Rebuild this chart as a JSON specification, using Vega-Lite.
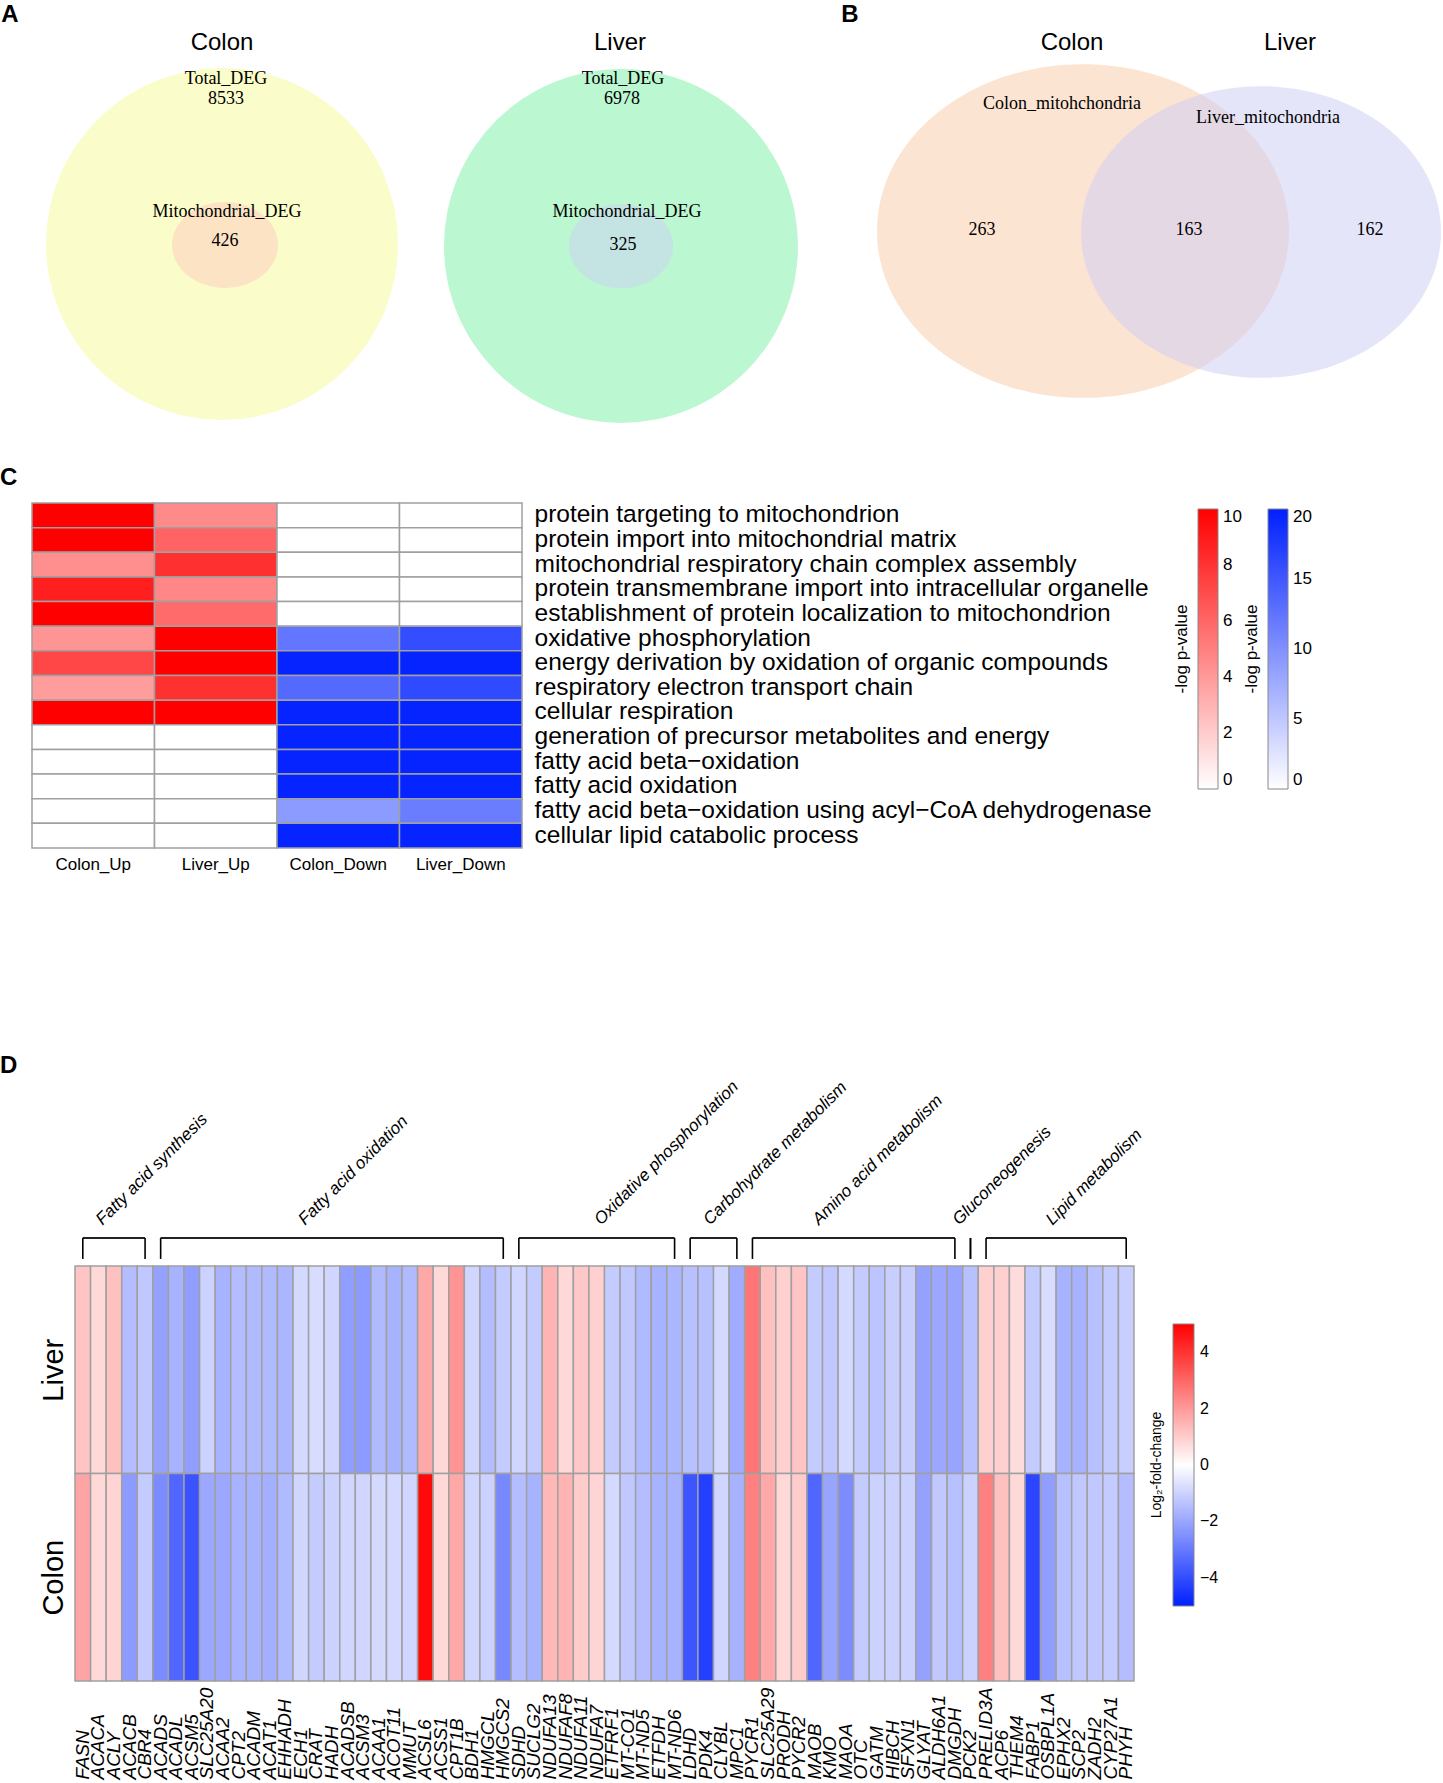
{
  "$schema": "https://vega.github.io/schema/vega-lite/v6.json",
  "background": "white",
  "padding": 0,
  "spacing": 0,
  "config": {
    "view": {"stroke": null},
    "font": "Liberation Sans",
    "axis": {"labelColor": "black", "labelFont": "Liberation Sans"},
    "legend": {"labelColor": "black", "titleColor": "black", "labelFont": "Liberation Sans", "titleFont": "Liberation Sans"},
    "title": {"font": "Liberation Sans", "color": "black"}
  },
  "datasets": {
    "venn": [
      {"id": "a_co", "kind": "circle", "cx": 2.22, "cy": 2.44},
      {"id": "a_ci", "kind": "circle", "cx": 2.25, "cy": 2.45},
      {"id": "a_lo", "kind": "circle", "cx": 6.21, "cy": 2.46},
      {"id": "a_li", "kind": "circle", "cx": 6.21, "cy": 2.46},
      {"id": "b_c", "kind": "circle", "cx": 10.83, "cy": 2.31},
      {"id": "b_l", "kind": "circle", "cx": 12.61, "cy": 2.32},
      {"kind": "letter", "label": "A", "cx": 0.10, "cy": 0.15},
      {"kind": "letter", "label": "B", "cx": 8.50, "cy": 0.15},
      {"kind": "title", "label": "Colon", "cx": 2.22, "cy": 0.43},
      {"kind": "title", "label": "Liver", "cx": 6.20, "cy": 0.43},
      {"kind": "title", "label": "Colon", "cx": 10.72, "cy": 0.43},
      {"kind": "title", "label": "Liver", "cx": 12.90, "cy": 0.43},
      {"kind": "serif", "label": "Total_DEG", "cx": 2.26, "cy": 0.79},
      {"kind": "serif", "label": "8533", "cx": 2.26, "cy": 0.99},
      {"kind": "serif", "label": "Mitochondrial_DEG", "cx": 2.27, "cy": 2.12},
      {"kind": "serif", "label": "426", "cx": 2.25, "cy": 2.41},
      {"kind": "serif", "label": "Total_DEG", "cx": 6.23, "cy": 0.79},
      {"kind": "serif", "label": "6978", "cx": 6.22, "cy": 0.99},
      {"kind": "serif", "label": "Mitochondrial_DEG", "cx": 6.27, "cy": 2.12},
      {"kind": "serif", "label": "325", "cx": 6.23, "cy": 2.45},
      {"kind": "serif", "label": "Colon_mitohchondria", "cx": 10.62, "cy": 1.04},
      {"kind": "serif", "label": "Liver_mitochondria", "cx": 12.68, "cy": 1.18},
      {"kind": "serif", "label": "263", "cx": 9.82, "cy": 2.30},
      {"kind": "serif", "label": "163", "cx": 11.89, "cy": 2.30},
      {"kind": "serif", "label": "162", "cx": 13.70, "cy": 2.30}
    ],
    "go": [
      {"term": "protein targeting to mitochondrion", "Colon_Up": 10, "Liver_Up": 4.6, "Colon_Down": 0, "Liver_Down": 0},
      {"term": "protein import into mitochondrial matrix", "Colon_Up": 10, "Liver_Up": 6.1, "Colon_Down": 0, "Liver_Down": 0},
      {"term": "mitochondrial respiratory chain complex assembly", "Colon_Up": 4.4, "Liver_Up": 8.1, "Colon_Down": 0, "Liver_Down": 0},
      {"term": "protein transmembrane import into intracellular organelle", "Colon_Up": 8.8, "Liver_Up": 4.7, "Colon_Down": 0, "Liver_Down": 0},
      {"term": "establishment of protein localization to mitochondrion", "Colon_Up": 10, "Liver_Up": 5.8, "Colon_Down": 0, "Liver_Down": 0},
      {"term": "oxidative phosphorylation", "Colon_Up": 4.2, "Liver_Up": 10, "Colon_Down": 12.3, "Liver_Down": 16},
      {"term": "energy derivation by oxidation of organic compounds", "Colon_Up": 7.2, "Liver_Up": 10, "Colon_Down": 19.6, "Liver_Down": 19.6},
      {"term": "respiratory electron transport chain", "Colon_Up": 3.9, "Liver_Up": 8.1, "Colon_Down": 13.4, "Liver_Down": 16.2},
      {"term": "cellular respiration", "Colon_Up": 10, "Liver_Up": 10, "Colon_Down": 19.6, "Liver_Down": 19.6},
      {"term": "generation of precursor metabolites and energy", "Colon_Up": 0, "Liver_Up": 0, "Colon_Down": 19.6, "Liver_Down": 19.6},
      {"term": "fatty acid beta−oxidation", "Colon_Up": 0, "Liver_Up": 0, "Colon_Down": 19.6, "Liver_Down": 19.6},
      {"term": "fatty acid oxidation", "Colon_Up": 0, "Liver_Up": 0, "Colon_Down": 19.6, "Liver_Down": 19.6},
      {"term": "fatty acid beta−oxidation using acyl−CoA dehydrogenase", "Colon_Up": 0, "Liver_Up": 0, "Colon_Down": 9, "Liver_Down": 11.7},
      {"term": "cellular lipid catabolic process", "Colon_Up": 0, "Liver_Up": 0, "Colon_Down": 19.6, "Liver_Down": 19.6}
    ],
    "lfc": [
      {"gene": "FASN", "Liver": 1.16, "Colon": 1.78},
      {"gene": "ACACA", "Liver": 0.76, "Colon": 0.76},
      {"gene": "ACLY", "Liver": 1.24, "Colon": 0.84},
      {"gene": "ACACB", "Liver": -1.47, "Colon": -2.25},
      {"gene": "CBR4", "Liver": -1.24, "Colon": -1.16},
      {"gene": "ACADS", "Liver": -2.10, "Colon": -2.57},
      {"gene": "ACADL", "Liver": -1.71, "Colon": -3.43},
      {"gene": "ACSM5", "Liver": -2.18, "Colon": -3.86},
      {"gene": "SLC25A20", "Liver": -1.0, "Colon": -1.94},
      {"gene": "ACAA2", "Liver": -1.71, "Colon": -1.94},
      {"gene": "CPT2", "Liver": -1.47, "Colon": -1.71},
      {"gene": "ACADM", "Liver": -1.55, "Colon": -1.71},
      {"gene": "ACAT1", "Liver": -1.55, "Colon": -1.78},
      {"gene": "EHHADH", "Liver": -1.63, "Colon": -1.55},
      {"gene": "ECH1", "Liver": -0.84, "Colon": -0.92},
      {"gene": "CRAT", "Liver": -0.76, "Colon": -1.16},
      {"gene": "HADH", "Liver": -0.92, "Colon": -1.0},
      {"gene": "ACADSB", "Liver": -2.18, "Colon": -0.92},
      {"gene": "ACSM3", "Liver": -2.25, "Colon": -0.92},
      {"gene": "ACAA1", "Liver": -1.55, "Colon": -0.84},
      {"gene": "ACOT11", "Liver": -1.71, "Colon": -0.84},
      {"gene": "MMUT", "Liver": -1.55, "Colon": -0.92},
      {"gene": "ACSL6", "Liver": 1.71, "Colon": 4.8},
      {"gene": "ACSS1", "Liver": 0.76, "Colon": 0.76},
      {"gene": "CPT1B", "Liver": 2.10, "Colon": 1.71},
      {"gene": "BDH1", "Liver": -0.92, "Colon": -0.92},
      {"gene": "HMGCL", "Liver": -1.47, "Colon": -1.0},
      {"gene": "HMGCS2", "Liver": -1.16, "Colon": -2.65},
      {"gene": "SDHD", "Liver": -0.92, "Colon": -1.47},
      {"gene": "SUCLG2", "Liver": -1.16, "Colon": -1.71},
      {"gene": "NDUFA13", "Liver": 1.47, "Colon": 1.39},
      {"gene": "NDUFAF8", "Liver": 0.76, "Colon": 1.47},
      {"gene": "NDUFA11", "Liver": 1.08, "Colon": 1.0},
      {"gene": "NDUFA7", "Liver": 0.92, "Colon": 0.84},
      {"gene": "ETFRF1", "Liver": -1.16, "Colon": -0.84},
      {"gene": "MT-CO1", "Liver": -1.24, "Colon": -1.24},
      {"gene": "MT-ND5", "Liver": -1.55, "Colon": -1.47},
      {"gene": "ETFDH", "Liver": -1.71, "Colon": -1.71},
      {"gene": "MT-ND6", "Liver": -1.63, "Colon": -1.71},
      {"gene": "LDHD", "Liver": -1.39, "Colon": -3.82},
      {"gene": "PDK4", "Liver": -1.39, "Colon": -4.29},
      {"gene": "CLYBL", "Liver": -0.84, "Colon": -0.92},
      {"gene": "MPC1", "Liver": -1.86, "Colon": -1.71},
      {"gene": "PYCR1", "Liver": 2.73, "Colon": 2.49},
      {"gene": "SLC25A29", "Liver": 1.24, "Colon": 1.71},
      {"gene": "PRODH", "Liver": 0.92, "Colon": 0.76},
      {"gene": "PYCR2", "Liver": 1.16, "Colon": 1.0},
      {"gene": "MAOB", "Liver": -1.16, "Colon": -3.43},
      {"gene": "KMO", "Liver": -1.24, "Colon": -2.02},
      {"gene": "MAOA", "Liver": -0.84, "Colon": -2.57},
      {"gene": "OTC", "Liver": -1.16, "Colon": -1.16},
      {"gene": "GATM", "Liver": -1.31, "Colon": -1.0},
      {"gene": "HIBCH", "Liver": -1.08, "Colon": -1.0},
      {"gene": "SFXN1", "Liver": -1.08, "Colon": -1.0},
      {"gene": "GLYAT", "Liver": -2.10, "Colon": -2.10},
      {"gene": "ALDH6A1", "Liver": -1.94, "Colon": -1.24},
      {"gene": "DMGDH", "Liver": -2.02, "Colon": -1.39},
      {"gene": "PCK2", "Liver": -1.39, "Colon": -1.0},
      {"gene": "PRELID3A", "Liver": 0.92, "Colon": 2.49},
      {"gene": "ACP6", "Liver": 0.92, "Colon": 1.24},
      {"gene": "THEM4", "Liver": 0.69, "Colon": 0.76},
      {"gene": "FABP1", "Liver": -1.16, "Colon": -4.14},
      {"gene": "OSBPL1A", "Liver": -0.76, "Colon": -2.18},
      {"gene": "EPHX2", "Liver": -1.71, "Colon": -1.39},
      {"gene": "SCP2", "Liver": -1.71, "Colon": -1.24},
      {"gene": "ZADH2", "Liver": -1.39, "Colon": -1.24},
      {"gene": "CYP27A1", "Liver": -1.16, "Colon": -1.16},
      {"gene": "PHYH", "Liver": -1.08, "Colon": -1.47}
    ],
    "brackets": [
      {"group": "Fatty acid synthesis", "start": "FASN", "end": "CBR4", "anchor": "ACACA"},
      {"group": "Fatty acid oxidation", "start": "ACADS", "end": "HMGCS2", "anchor": "ECH1"},
      {"group": "Oxidative phosphorylation", "start": "SDHD", "end": "MT-ND6", "anchor": "NDUFA7"},
      {"group": "Carbohydrate metabolism", "start": "LDHD", "end": "MPC1", "anchor": "PDK4"},
      {"group": "Amino acid metabolism", "start": "PYCR1", "end": "DMGDH", "anchor": "MAOB"},
      {"group": "Gluconeogenesis", "start": "PCK2", "end": "PCK2", "anchor": "DMGDH"},
      {"group": "Lipid metabolism", "start": "PRELID3A", "end": "PHYH", "anchor": "OSBPL1A"}
    ]
  },
  "vconcat": [
    {
      "width": 1443,
      "height": 465,
      "data": {"name": "venn"},
      "encoding": {
        "x": {"field": "cx", "type": "quantitative", "scale": {"domain": [0, 14.43], "nice": false, "zero": false}, "axis": null},
        "y": {"field": "cy", "type": "quantitative", "scale": {"domain": [0, 4.65], "nice": false, "zero": false, "reverse": true}, "axis": null}
      },
      "layer": [
        {"transform": [{"filter": {"field": "id", "equal": "a_co"}}],
         "mark": {"type": "point", "shape": "circle", "filled": true, "size": 123904, "color": "#FAFDC9", "opacity": 1, "strokeWidth": 0}},
        {"transform": [{"filter": {"field": "id", "equal": "a_ci"}}],
         "mark": {"type": "point", "shape": "M 1 0 C 1 0.4474 0.5523 0.81 0 0.81 C -0.5523 0.81 -1 0.4474 -1 0 C -1 -0.4474 -0.5523 -0.81 0 -0.81 C 0.5523 -0.81 1 -0.4474 1 0 Z", "filled": true, "size": 11236, "color": "#FCE3C4", "opacity": 1, "strokeWidth": 0}},
        {"transform": [{"filter": {"field": "id", "equal": "a_lo"}}],
         "mark": {"type": "point", "shape": "circle", "filled": true, "size": 125316, "color": "#BBF7D0", "opacity": 1, "strokeWidth": 0}},
        {"transform": [{"filter": {"field": "id", "equal": "a_li"}}],
         "mark": {"type": "point", "shape": "M 1 0 C 1 0.4474 0.5523 0.81 0 0.81 C -0.5523 0.81 -1 0.4474 -1 0 C -1 -0.4474 -0.5523 -0.81 0 -0.81 C 0.5523 -0.81 1 -0.4474 1 0 Z", "filled": true, "size": 10816, "color": "#C4E3E3", "opacity": 1, "strokeWidth": 0}},
        {"transform": [{"filter": {"field": "id", "equal": "b_c"}}],
         "mark": {"type": "point", "shape": "M 1 0 C 1 0.4474 0.5523 0.81 0 0.81 C -0.5523 0.81 -1 0.4474 -1 0 C -1 -0.4474 -0.5523 -0.81 0 -0.81 C 0.5523 -0.81 1 -0.4474 1 0 Z", "filled": true, "size": 169744, "color": "#FCE4D2", "opacity": 1, "strokeWidth": 0}},
        {"transform": [{"filter": {"field": "id", "equal": "b_l"}}],
         "mark": {"type": "point", "shape": "M 1 0 C 1 0.4474 0.5523 0.81 0 0.81 C -0.5523 0.81 -1 0.4474 -1 0 C -1 -0.4474 -0.5523 -0.81 0 -0.81 C 0.5523 -0.81 1 -0.4474 1 0 Z", "filled": true, "size": 129600, "color": "#CCCCF5", "opacity": 0.5, "strokeWidth": 0}},
        {"transform": [{"filter": {"field": "kind", "equal": "letter"}}],
         "mark": {"type": "text", "font": "Liberation Sans", "fontSize": 24, "fontWeight": "bold", "align": "center", "baseline": "middle", "color": "black"},
         "encoding": {"text": {"field": "label"}}},
        {"transform": [{"filter": {"field": "kind", "equal": "title"}}],
         "mark": {"type": "text", "font": "Liberation Sans", "fontSize": 24, "align": "center", "baseline": "middle", "color": "black"},
         "encoding": {"text": {"field": "label"}}},
        {"transform": [{"filter": {"field": "kind", "equal": "serif"}}],
         "mark": {"type": "text", "font": "Liberation Serif", "fontSize": 18, "align": "center", "baseline": "middle", "color": "black"},
         "encoding": {"text": {"field": "label"}}}
      ]
    },
    {
      "title": {"text": "C", "anchor": "start", "fontSize": 24, "fontWeight": "bold", "offset": 12},
      "width": 522,
      "height": 550,
      "data": {"name": "go"},
      "layer": [
        {
          "transform": [{"fold": ["Colon_Up", "Liver_Up"], "as": ["col", "v"]}],
          "mark": {"type": "rect", "stroke": "#A0A0A0", "strokeWidth": 1.5},
          "encoding": {
            "x": {"field": "col", "type": "nominal",
                  "scale": {"domain": ["Colon_Up", "Liver_Up", "Colon_Down", "Liver_Down"], "range": [32, 522], "paddingInner": 0, "paddingOuter": 0},
                  "axis": {"orient": "bottom", "offset": -205, "labelAngle": 0, "labelFontSize": 17, "ticks": false, "domain": false, "title": null, "labelPadding": 8}},
            "y": {"field": "term", "type": "nominal", "sort": null,
                  "scale": {"range": [0, 345], "paddingInner": 0, "paddingOuter": 0},
                  "axis": {"orient": "right", "labelFontSize": 24.5, "ticks": false, "domain": false, "title": null, "labelPadding": 12, "labelLimit": 0}},
            "color": {"field": "v", "type": "quantitative",
                      "scale": {"domain": [0, 10], "range": ["#FFFFFF", "#FF0000"], "interpolate": "rgb"},
                      "legend": {"title": "-log p-value", "orient": "none", "legendX": 1173, "legendY": 6, "direction": "vertical", "titleOrient": "left", "titleAnchor": "middle", "titleFontSize": 17, "titleFontWeight": "normal", "titlePadding": 6, "gradientLength": 280, "gradientThickness": 20, "gradientStrokeColor": "#888888", "gradientStrokeWidth": 1, "values": [0, 2, 4, 6, 8, 10], "labelFontSize": 17, "labelOffset": 5}}
          }
        },
        {
          "transform": [{"fold": ["Colon_Down", "Liver_Down"], "as": ["col", "v"]}],
          "mark": {"type": "rect", "stroke": "#A0A0A0", "strokeWidth": 1.5},
          "encoding": {
            "x": {"field": "col", "type": "nominal"},
            "y": {"field": "term", "type": "nominal", "sort": null},
            "color": {"field": "v", "type": "quantitative",
                      "scale": {"domain": [0, 20], "range": ["#FFFFFF", "#0020FF"], "interpolate": "rgb"},
                      "legend": {"title": "-log p-value", "orient": "none", "legendX": 1243, "legendY": 6, "direction": "vertical", "titleOrient": "left", "titleAnchor": "middle", "titleFontSize": 17, "titleFontWeight": "normal", "titlePadding": 6, "gradientLength": 280, "gradientThickness": 20, "gradientStrokeColor": "#888888", "gradientStrokeWidth": 1, "values": [0, 5, 10, 15, 20], "labelFontSize": 17, "labelOffset": 5}}
          }
        }
      ],
      "resolve": {"scale": {"color": "independent"}, "legend": {"color": "independent"}}
    },
    {
      "title": {"text": "D", "anchor": "start", "fontSize": 24, "fontWeight": "bold", "offset": 0},
      "width": 1150,
      "height": 703,
      "layer": [
        {
          "data": {"name": "lfc"},
          "mark": {"type": "rect", "stroke": "#A0A0A0", "strokeWidth": 1.5},
          "encoding": {
            "x": {"field": "gene", "type": "nominal",
                  "scale": {"domain": ["FASN","ACACA","ACLY","ACACB","CBR4","ACADS","ACADL","ACSM5","SLC25A20","ACAA2","CPT2","ACADM","ACAT1","EHHADH","ECH1","CRAT","HADH","ACADSB","ACSM3","ACAA1","ACOT11","MMUT","ACSL6","ACSS1","CPT1B","BDH1","HMGCL","HMGCS2","SDHD","SUCLG2","NDUFA13","NDUFAF8","NDUFA11","NDUFA7","ETFRF1","MT-CO1","MT-ND5","ETFDH","MT-ND6","LDHD","PDK4","CLYBL","MPC1","PYCR1","SLC25A29","PRODH","PYCR2","MAOB","KMO","MAOA","OTC","GATM","HIBCH","SFXN1","GLYAT","ALDH6A1","DMGDH","PCK2","PRELID3A","ACP6","THEM4","FABP1","OSBPL1A","EPHX2","SCP2","ZADH2","CYP27A1","PHYH"],
                            "range": [75, 1134], "paddingInner": 0, "paddingOuter": 0},
                  "axis": null},
            "y": {"datum": 0, "type": "quantitative",
                  "scale": {"domain": [-0.877, 2.511], "reverse": true, "nice": false, "zero": false},
                  "axis": {"orient": "left", "offset": -70, "values": [0.5, 1.5], "labelExpr": "datum.value < 1 ? 'Liver' : 'Colon'", "labelAngle": -90, "labelAlign": "center", "labelBaseline": "bottom", "labelFontSize": 29, "labelPadding": 2, "ticks": false, "domain": false, "grid": false, "title": null}},
            "y2": {"datum": 1},
            "color": {"field": "Liver", "type": "quantitative",
                      "scale": {"domain": [-5, 0, 5], "range": ["#0020FF", "#FFFFFF", "#FF0000"], "interpolate": "rgb"},
                      "legend": {"title": "Log₂-fold-change", "orient": "none", "legendX": 1150, "legendY": 240, "direction": "vertical", "titleOrient": "left", "titleAnchor": "middle", "titleFontSize": 14, "titleFontWeight": "normal", "titlePadding": 8, "gradientLength": 282, "gradientThickness": 21, "gradientStrokeColor": "#888888", "gradientStrokeWidth": 1, "values": [-4, -2, 0, 2, 4], "labelFontSize": 16, "labelOffset": 6}}
          }
        },
        {
          "data": {"name": "lfc"},
          "mark": {"type": "rect", "stroke": "#A0A0A0", "strokeWidth": 1.5},
          "encoding": {
            "x": {"field": "gene", "type": "nominal"},
            "y": {"datum": 1, "type": "quantitative"},
            "y2": {"datum": 2},
            "color": {"field": "Colon", "type": "quantitative", "legend": {"title": "Log₂-fold-change"}}
          }
        },
        {
          "data": {"name": "brackets"},
          "mark": {"type": "rule", "color": "#222222", "strokeWidth": 2},
          "encoding": {
            "x": {"field": "start", "type": "nominal"},
            "x2": {"field": "end"},
            "y": {"datum": -0.135, "type": "quantitative"}
          }
        },
        {
          "data": {"name": "brackets"},
          "transform": [{"fold": ["start", "end"], "as": ["side", "g"]}],
          "mark": {"type": "rule", "color": "black", "strokeWidth": 1.6},
          "encoding": {
            "x": {"field": "g", "type": "nominal"},
            "y": {"datum": -0.135, "type": "quantitative"},
            "y2": {"datum": -0.034}
          }
        },
        {
          "data": {"name": "brackets"},
          "mark": {"type": "text", "angle": -45, "align": "left", "baseline": "alphabetic", "fontStyle": "italic", "fontSize": 17, "font": "Liberation Sans", "color": "black", "dx": 6},
          "encoding": {
            "x": {"field": "anchor", "type": "nominal"},
            "y": {"datum": -0.173, "type": "quantitative"},
            "text": {"field": "group"}
          }
        },
        {
          "data": {"name": "lfc"},
          "mark": {"type": "text", "angle": -90, "align": "left", "baseline": "middle", "fontStyle": "italic", "fontSize": 19, "font": "Liberation Sans", "color": "black"},
          "encoding": {
            "x": {"field": "gene", "type": "nominal"},
            "y": {"datum": 2.475, "type": "quantitative"},
            "text": {"field": "gene"}
          }
        }
      ]
    }
  ],
  "resolve": {"scale": {"x": "independent", "y": "independent", "color": "independent"}, "legend": {"color": "independent"}}
}
